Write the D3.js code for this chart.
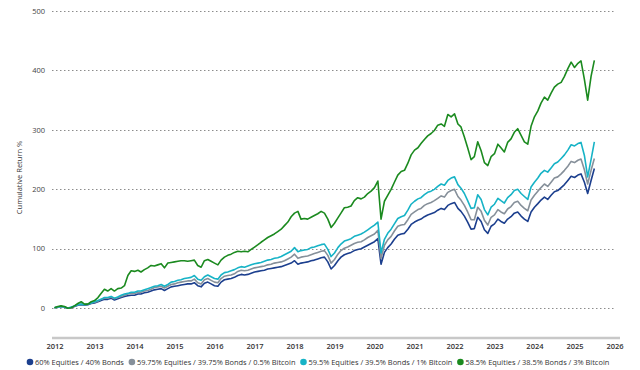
<!DOCTYPE html>
<html>
<head>
<meta charset="utf-8">
<script src="https://cdn.jsdelivr.net/npm/d3@7/dist/d3.min.js"></script>
<style>
  html, body { margin: 0; padding: 0; background: #fff; }
  svg { display: block; font-family: "Open Sans", "Noto Sans", sans-serif; }
</style>
</head>
<body>
<svg id="chart" width="640" height="370"></svg>
<script>
// ---- Data (monthly, Jan 2012 .. Jul 2025), cumulative return % ----
const startMonth = "2012-01";
const yTicks = [0, 100, 200, 300, 400, 500];
const xTicks = [2012, 2013, 2014, 2015, 2016, 2017, 2018, 2019, 2020, 2021, 2022, 2023, 2024, 2025, 2026];
const seriesNames = [
  "60% Equities / 40% Bonds",
  "59.75% Equities / 39.75% Bonds / 0.5% Bitcoin",
  "59.5% Equities / 39.5% Bonds / 1% Bitcoin",
  "58.5% Equities / 38.5% Bonds / 3% Bitcoin"
];
const bonds6040 = [
  1,2,3,2,0,1,3,5,6,5,6,8,
  9,11,13,15,15,17,14,16,18,20,21,22,
  22,24,24,26,27,29,31,32,33,30,33,36,
  37,38,39,40,41,41,43,38,36,42,44,41,
  38,37,44,48,49,50,52,55,57,56,57,59,
  61,62,63,64,66,67,68,69,70,72,74,76,
  80,74,76,77,78,80,81,83,85,86,78,66,
  72,80,86,90,92,94,97,99,100,103,106,109,
  112,117,74,94,102,108,116,123,125,126,133,141,
  145,148,150,154,157,159,161,165,168,166,173,176,
  178,168,163,155,145,133,134,153,146,132,126,138,
  142,150,146,143,150,154,160,162,155,150,146,162,
  170,176,182,187,183,190,196,198,203,208,215,222,
  220,224,226,212,193,215,235
];
const btc05 = [
  1,2,3,2,0,1,4,6,7,6,7,9,
  10,12,15,17,17,19,16,18,20,22,24,25,
  25,27,27,29,30,32,35,36,37,34,37,40,
  41,43,44,45,46,46,49,43,41,48,50,47,
  44,43,50,54,55,56,58,62,64,63,64,66,
  68,69,70,71,73,74,76,77,78,80,83,86,
  91,84,86,87,88,90,92,94,96,97,89,76,
  82,91,97,101,103,106,109,111,112,115,119,122,
  125,131,84,106,115,121,130,138,140,141,149,158,
  162,166,168,173,176,178,181,185,189,187,195,198,
  200,188,182,173,162,149,149,170,163,148,140,153,
  157,166,162,159,167,171,178,180,173,168,164,182,
  190,197,203,209,205,212,219,221,226,232,239,247,
  245,249,251,233,209,232,252
];
const btc1 = [
  1,2,3,2,0,2,4,6,7,6,7,9,
  11,13,15,18,18,20,17,19,22,24,25,27,
  27,29,29,31,33,35,37,38,40,37,40,44,
  45,47,48,50,51,52,55,49,47,53,56,53,
  50,49,56,60,61,63,65,68,70,69,71,73,
  75,76,77,79,81,82,84,85,87,90,93,96,
  102,95,97,98,99,102,103,105,107,108,99,87,
  93,102,108,113,115,117,121,123,125,128,132,136,
  140,145,93,116,126,133,142,151,154,156,165,175,
  180,184,186,191,195,197,200,205,209,207,215,219,
  221,208,202,193,181,168,169,191,183,166,157,170,
  175,185,181,177,186,191,198,200,193,188,183,204,
  212,219,227,232,229,236,243,246,252,258,266,275,
  273,277,279,257,221,250,280
];
const btc3 = [
  1,3,4,3,0,1,4,8,11,7,7,11,
  13,18,25,32,29,33,29,33,34,38,55,63,
  62,64,61,65,68,72,71,73,75,68,76,77,
  78,79,80,80,79,80,81,72,69,80,82,79,
  76,73,81,86,89,91,94,96,95,96,95,99,
  103,107,111,115,119,122,125,129,133,139,145,154,
  160,163,150,151,150,153,156,159,163,160,150,136,
  143,152,160,169,170,172,181,186,184,187,193,197,
  203,214,150,180,190,200,212,224,230,232,244,258,
  266,270,277,284,290,294,299,308,310,306,326,322,
  327,310,305,288,270,250,255,280,265,245,240,255,
  260,276,270,263,279,285,296,302,291,280,276,306,
  322,332,345,355,350,362,372,377,380,390,403,414,
  405,412,416,385,350,390,417
];
const seriesValues = [bonds6040, btc05, btc1, btc3];
const colors = ["#1c3f8e", "#86909a", "#17b3c6", "#1b8a1f"];

// ---- Layout ----
const svg = d3.select("#chart");
const start = d3.timeParse("%Y-%m")(startMonth);
const dates = bonds6040.map((_, i) => d3.timeMonth.offset(start, i));

const x = d3.scaleTime()
  .domain([new Date(2012, 0, 1), new Date(2026, 0, 1)])
  .range([54.5, 614.5]);
const y = d3.scaleLinear().domain([-50, 500]).range([338, 11]);

// gridlines
svg.append("g").selectAll("line").data(yTicks).join("line")
  .attr("x1", 52).attr("x2", 616)
  .attr("y1", d => Math.round(y(d)) + 0.5).attr("y2", d => Math.round(y(d)) + 0.5)
  .attr("stroke", "#8c8c8c").attr("stroke-width", 1)
  .attr("stroke-dasharray", "1.5,2.5");

// y tick labels
svg.append("g").selectAll("text").data(yTicks).join("text")
  .attr("x", 45).attr("y", d => y(d)).attr("dy", "0.35em")
  .attr("text-anchor", "end").attr("font-size", 7.5).attr("fill", "#444")
  .text(d => d);

// y axis title
svg.append("text")
  .attr("transform", "translate(22," + y(220) + ") rotate(-90)")
  .attr("text-anchor", "middle").attr("font-size", 7.5).attr("fill", "#333")
  .text("Cumulative Return %");

// x axis
const xAxis = d3.axisBottom(x)
  .tickValues(xTicks.map(yr => new Date(yr, 0, 1)))
  .tickFormat(d3.timeFormat("%Y"))
  .tickSize(0).tickPadding(6);
const gx = svg.append("g").attr("transform", "translate(0,338)").call(xAxis);
gx.select(".domain").attr("d", "M52,0H620").attr("stroke", "#c8c8c8").attr("stroke-width", 2.5);
gx.selectAll("text").attr("font-size", 7.5).attr("fill", "#333")
  .attr("font-family", "'Open Sans', sans-serif").attr("font-weight", 600);

// lines
const line = d3.line().x((d, i) => x(dates[i])).y(d => y(d)).curve(d3.curveLinear);
svg.append("g").selectAll("path").data(seriesValues).join("path")
  .attr("d", d => line(d))
  .attr("fill", "none")
  .attr("stroke", (d, i) => colors[i])
  .attr("stroke-width", 1.6)
  .attr("stroke-linejoin", "round");

// legend: fit the row between x=27 and x=610
const legend = svg.append("g").attr("transform", "translate(0,362)");
const legStart = 30, legEnd = 610, cToText = 5, gapNext = 8;
const items = seriesNames.map((name, i) => {
  const g = legend.append("g");
  g.append("circle").attr("cx", 0).attr("cy", 0).attr("r", 3.3).attr("fill", colors[i]);
  const t = g.append("text").attr("x", cToText).attr("y", 0).attr("dy", "0.35em")
    .attr("font-size", 8).attr("fill", "#333").text(name);
  return { g, t };
});
const measured = d3.sum(items, d => d.t.node().getComputedTextLength());
const avail = (legEnd - legStart) - cToText * 4 - gapNext * 3;
const fs = Math.min(8, 8 * avail / measured);
let lx = legStart;
items.forEach(d => {
  d.t.attr("font-size", fs);
  d.g.attr("transform", "translate(" + lx + ",0)");
  lx += cToText + d.t.node().getComputedTextLength() + gapNext;
});
</script>
</body>
</html>
